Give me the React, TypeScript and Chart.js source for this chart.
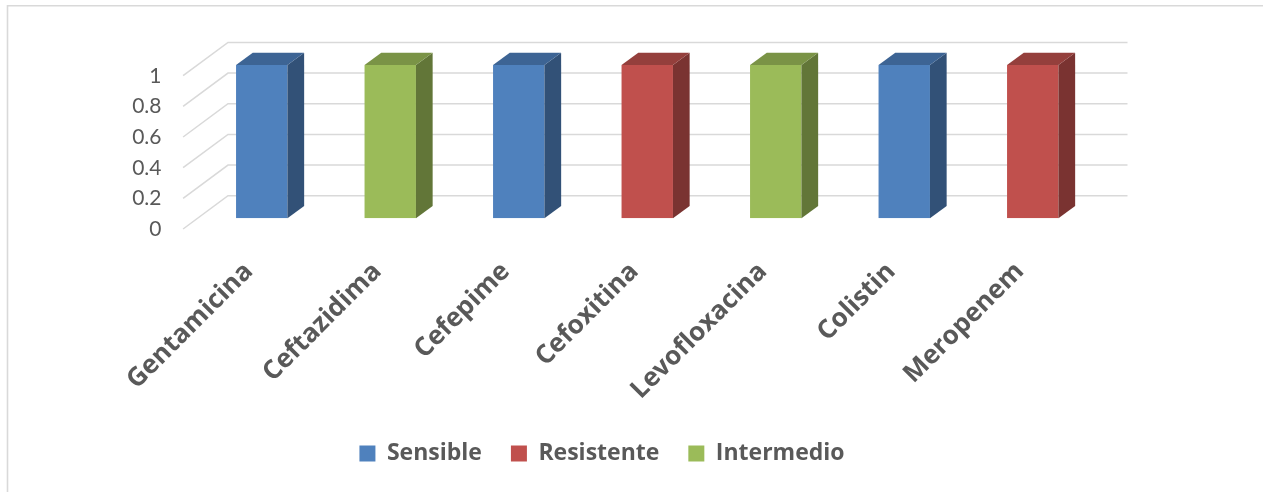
import { useEffect, useRef } from 'react';
import { Chart, registerables } from 'chart.js';

Chart.register(...registerables);

// Antibiotic susceptibility per drug (1 = result observed)
const categories = [
  'Gentamicina',
  'Ceftazidima',
  'Cefepime',
  'Cefoxitina',
  'Levofloxacina',
  'Colistin',
  'Meropenem',
];
const sensible = [1, null, 1, null, null, 1, null];
const resistente = [null, null, null, 1, null, null, 1];
const intermedio = [null, 1, null, null, 1, null, null];

const seriesNames = ['Sensible', 'Resistente', 'Intermedio'];
const yTickValues = [0, 0.2, 0.4, 0.6, 0.8, 1];

const frontColors = ['#4F81BD', '#C0504D', '#9BBB59'];
const sideColors = ['#325177', '#7A3331', '#627638'];
const topColors = ['#3D6494', '#943F3C', '#7A9346'];

const GRID_COLOR = '#d9d9d9';
const TEXT_COLOR = '#595959';

// Oblique projection used for the pseudo-3D look
const BAR_DX = 16.7;
const BAR_DY = -12.3;
const WALL_DX = 30.5;
const WALL_DY = -22.6;
const FLOOR_DX = -14.4;
const FLOOR_DY = 10.7;

const pseudo3d = {
  id: 'pseudo3d',
  beforeDraw(chart: any) {
    const ctx = chart.ctx;
    ctx.save();
    ctx.fillStyle = '#ffffff';
    ctx.fillRect(0, 0, chart.width, chart.height);
    ctx.strokeStyle = GRID_COLOR;
    ctx.lineWidth = 1.6;
    ctx.beginPath();
    ctx.moveTo(7.5, chart.height);
    ctx.lineTo(7.5, 5.8);
    ctx.lineTo(chart.width, 5.8);
    ctx.stroke();
    ctx.restore();
  },
  beforeDatasetsDraw(chart: any) {
    const { ctx, chartArea, scales } = chart;
    const y = scales.y;
    ctx.save();
    ctx.strokeStyle = GRID_COLOR;
    ctx.lineWidth = 1.5;
    for (const v of yTickValues) {
      const py = y.getPixelForValue(v);
      ctx.beginPath();
      ctx.moveTo(chartArea.left + FLOOR_DX, py + FLOOR_DY);
      ctx.lineTo(chartArea.left + WALL_DX, py + WALL_DY);
      ctx.lineTo(chartArea.right + WALL_DX, py + WALL_DY);
      ctx.stroke();
    }
    ctx.restore();
  },
  afterDatasetsDraw(chart: any) {
    const ctx = chart.ctx;
    ctx.save();
    chart.data.datasets.forEach((ds: any, di: number) => {
      const meta = chart.getDatasetMeta(di);
      meta.data.forEach((el: any, i: number) => {
        if (ds.data[i] == null) return;
        const { x, y, base, width } = el.getProps(['x', 'y', 'base', 'width'], true);
        const l = x - width / 2;
        const r = x + width / 2;
        // side face
        ctx.fillStyle = sideColors[di];
        ctx.beginPath();
        ctx.moveTo(r, y);
        ctx.lineTo(r + BAR_DX, y + BAR_DY);
        ctx.lineTo(r + BAR_DX, base + BAR_DY);
        ctx.lineTo(r, base);
        ctx.closePath();
        ctx.fill();
        // top face
        ctx.fillStyle = topColors[di];
        ctx.beginPath();
        ctx.moveTo(l, y);
        ctx.lineTo(l + BAR_DX, y + BAR_DY);
        ctx.lineTo(r + BAR_DX, y + BAR_DY);
        ctx.lineTo(r, y);
        ctx.closePath();
        ctx.fill();
      });
    });
    ctx.restore();
  },
};

export default function App() {
  const canvasRef = useRef<HTMLCanvasElement | null>(null);

  useEffect(() => {
    const canvas = canvasRef.current;
    if (!canvas) return;
    const seriesData = [sensible, resistente, intermedio];
    const chart = new Chart(canvas, {
      type: 'bar',
      data: {
        labels: categories,
        datasets: seriesNames.map((name, i) => ({
          label: name,
          data: seriesData[i],
          backgroundColor: frontColors[i],
          borderWidth: 0,
          barPercentage: 0.4,
          categoryPercentage: 1,
        })),
      },
      options: {
        responsive: false,
        animation: false,
        layout: { padding: { top: 65, left: 107, right: 166, bottom: 17 } },
        plugins: {
          tooltip: { enabled: false },
          legend: {
            position: 'bottom',
            labels: {
              boxWidth: 16,
              boxHeight: 16,
              padding: 29,
              color: TEXT_COLOR,
              font: { family: 'Open Sans', size: 23, weight: 'bold' },
            },
          },
        },
        scales: {
          x: {
            stacked: true,
            grid: { display: false, drawTicks: false },
            border: { display: false },
            ticks: {
              autoSkip: false,
              minRotation: 45,
              maxRotation: 45,
              labelOffset: -13,
              padding: 38,
              color: TEXT_COLOR,
              font: { family: 'Open Sans', size: 26, weight: 'bold' },
            },
            afterFit(scale: any) {
              scale.height = 194.7;
            },
          },
          y: {
            stacked: true,
            min: 0,
            max: 1,
            grid: { display: false, drawTicks: false },
            border: { display: false },
            afterBuildTicks(scale: any) {
              scale.ticks = yTickValues.map((v) => ({ value: v }));
            },
            ticks: {
              padding: 36,
              labelOffset: 11,
              color: TEXT_COLOR,
              font: { family: 'Lato', size: 21 },
              callback: (v: any) => String(v),
            },
            afterFit(scale: any) {
              scale.width = 90.5;
            },
          },
        },
      },
      plugins: [pseudo3d],
    });
    return () => chart.destroy();
  }, []);

  return (
    <div style={{ position: 'fixed', left: 0, top: 0, width: 1263, height: 492, background: '#fff' }}>
      <canvas ref={canvasRef} width={1263} height={492} style={{ display: 'block' }} />
    </div>
  );
}
